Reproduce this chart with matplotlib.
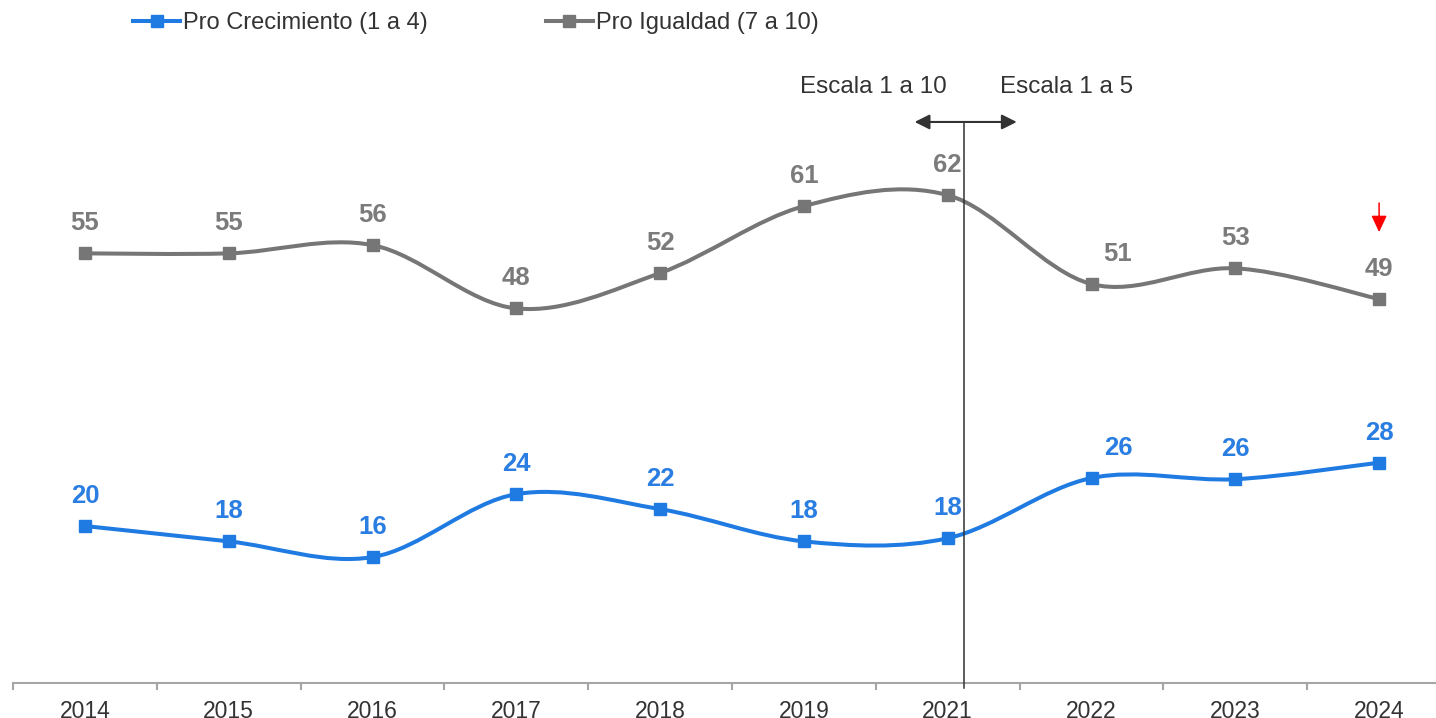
import numpy as np
import matplotlib
matplotlib.use("Agg")
import matplotlib.pyplot as plt
from matplotlib.path import Path
from matplotlib.patches import PathPatch
from matplotlib.lines import Line2D

plt.rcParams['font.family'] = ['Liberation Sans', 'DejaVu Sans']

years = ['2014', '2015', '2016', '2017', '2018', '2019', '2021', '2022', '2023', '2024']
crecimiento = [19.95, 18.0, 16.0, 24.0, 22.1, 18.0, 18.4, 26.05, 25.9, 28.0]
igualdad = [54.6, 54.6, 55.65, 47.6, 52.1, 60.6, 62.0, 50.7, 52.7, 48.8]
series_names = ['Pro Crecimiento (1 a 4)', 'Pro Igualdad (7 a 10)']

BLUE = '#1f7be2'
GRAY = '#767676'
DARK = '#333333'


def smooth_path(xs, ys):
    # bezier curve through the points (same idea as excel's smoothed line)
    pts = np.column_stack([xs, ys]).astype(float)
    n = len(pts)
    verts = [pts[0]]
    codes = [Path.MOVETO]
    for i in range(n - 1):
        p_prev = pts[i - 1] if i > 0 else pts[i]
        p_next2 = pts[i + 2] if i + 2 < n else pts[i + 1]
        c1 = pts[i] + (pts[i + 1] - p_prev) / 6
        c2 = pts[i + 1] - (p_next2 - pts[i]) / 6
        verts += [c1, c2, pts[i + 1]]
        codes += [Path.CURVE4] * 3
    return Path(verts, codes)


fig = plt.figure(figsize=(14.36, 7.18), dpi=100)
ax = fig.add_axes([13 / 1436, 35 / 718, 1438 / 1436, 683 / 718])
x = np.arange(len(years))

for vals, col, lab_col in [(crecimiento, BLUE, '#2a7de1'), (igualdad, GRAY, '#7b7b7b')]:
    ax.add_patch(PathPatch(smooth_path(x, vals), fill=False, edgecolor=col,
                           lw=2.9, capstyle='round', joinstyle='round'))
    ax.plot(x, vals, ls='none', marker='s', ms=8.5, color=col, zorder=3)
    for i, v in enumerate(vals):
        dx = 19 if i == 7 else 0
        ax.annotate(f'{round(v)}', (i, v), xytext=(dx, 21.6), textcoords='offset points',
                    ha='center', va='center', fontsize=18.5, fontweight='bold', color=lab_col)

ax.set_xlim(-0.5, 9.5)
ax.set_ylim(0, 86.8)

for s in ['top', 'right', 'left']:
    ax.spines[s].set_visible(False)
ax.spines['bottom'].set_color('#a6a6a6')
ax.spines['bottom'].set_linewidth(1.5)
ax.set_yticks([])
ax.set_xticks(x)
ax.set_xticklabels(years)
ax.set_xticks(np.arange(-0.5, 10, 1), minor=True)
ax.tick_params(axis='x', which='major', length=0, pad=12, labelsize=16.5, labelcolor=DARK)
ax.tick_params(axis='x', which='minor', length=5, width=1.5, color='#a6a6a6')

# scale change marker
ax.plot([6.11, 6.11], [-0.6, 71.3], color=DARK, lw=1.1, clip_on=False, zorder=4)
ax.annotate('', xy=(5.77, 71.3), xytext=(6.48, 71.3),
            arrowprops=dict(arrowstyle='<|-|>,head_length=0.9,head_width=0.45',
                            color=DARK, lw=1.5, shrinkA=0, shrinkB=0))
ax.text(5.48, 75.8, 'Escala 1 a 10', ha='center', va='center', fontsize=17.5, color=DARK)
ax.text(6.83, 75.8, 'Escala 1 a 5', ha='center', va='center', fontsize=17.5, color=DARK)

# red arrow on last point
ax.annotate('', xy=(9, 57.3), xytext=(9, 61.0),
            arrowprops=dict(arrowstyle='-|>,head_length=1.0,head_width=0.47',
                            color='red', lw=1.1, shrinkA=0, shrinkB=0))

handles = [Line2D([], [], color=BLUE, lw=2.9, marker='s', ms=8.5),
           Line2D([], [], color=GRAY, lw=2.9, marker='s', ms=8.5)]
fig.legend(handles, series_names, loc='center left', bbox_to_anchor=(133 / 1436, 1 - 23 / 718),
           ncol=2, frameon=False, borderpad=0, borderaxespad=0, handlelength=2.0,
           handletextpad=0.12, columnspacing=5.0, labelcolor=DARK,
           prop=dict(size=17))

fig.savefig('out.png', dpi=100)
